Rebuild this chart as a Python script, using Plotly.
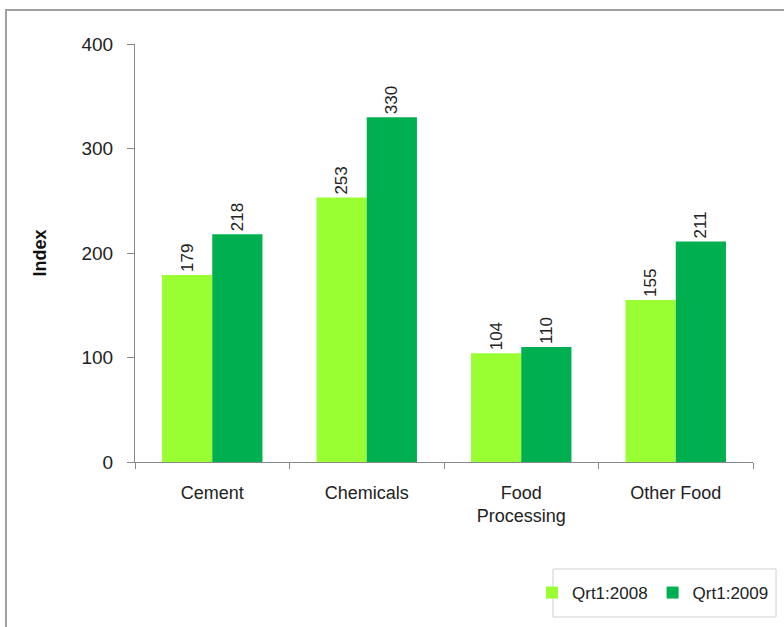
import plotly.graph_objects as go

categories = ["Cement", "Chemicals", "Food<br>Processing", "Other Food"]
series_names = ["Qrt1:2008", "Qrt1:2009"]
values_2008 = [179, 253, 104, 155]
values_2009 = [218, 330, 110, 211]
y_ticks = [0, 100, 200, 300, 400]

colors = ["#99FF33", "#00B050"]
font_family = "Liberation Sans, Arial, sans-serif"

W, H = 784, 627
L, T = 135, 44
R = W - 753
B = H - 462
pw, ph = W - L - R, H - T - B

fig = go.Figure()
for name, vals, col in zip(series_names, [values_2008, values_2009], colors):
    fig.add_trace(go.Bar(
        x=categories, y=vals, name=name,
        marker=dict(color=col, line=dict(width=0)),
        text=[str(v) for v in vals], textposition="outside",
        textangle=-90, cliponaxis=False,
        textfont=dict(family=font_family, size=17, color="#222222"),
    ))

def px_x(x):
    return (x - L) / pw

def px_y(y):
    return 1 - (y - T) / ph

fig.update_layout(
    width=W, height=H,
    margin=dict(l=L, r=R, t=T, b=B, autoexpand=False),
    paper_bgcolor="white", plot_bgcolor="white",
    barmode="group", bargap=0.35, bargroupgap=0,
    font=dict(family=font_family, size=18, color="#222222"),
    showlegend=True,
    legend=dict(
        orientation="h", x=px_x(774), xanchor="right", y=px_y(593), yanchor="middle",
        borderwidth=0, bgcolor="rgba(0,0,0,0)",
        font=dict(size=17, color="#222222"),
        itemwidth=30, traceorder="normal",
    ),
    xaxis=dict(
        showline=True, linecolor="#888888", linewidth=1,
        ticks="outside", ticklen=6, tickcolor="#888888",
        tickson="boundaries", showgrid=False,
        tickfont=dict(size=18, color="#222222"),
        ticklabelstandoff=14,
    ),
    yaxis=dict(
        range=[0, 400], tickvals=y_ticks, ticktext=[str(v) for v in y_ticks],
        showline=True, linecolor="#888888", linewidth=1,
        ticks="outside", ticklen=7, tickcolor="#888888",
        showgrid=False, zeroline=False,
        tickfont=dict(size=19, color="#222222"),
        ticklabelstandoff=10,
        title=dict(text="<b>Index</b>", font=dict(size=18, color="#111111"), standoff=30),
    ),
    shapes=[
        dict(
            type="rect", xref="paper", yref="paper",
            x0=px_x(6), x1=px_x(800), y0=px_y(640), y1=px_y(10),
            line=dict(color="#A0A0A0", width=2), fillcolor="rgba(0,0,0,0)", layer="below",
        ),
        dict(
            type="rect", xref="paper", yref="paper",
            x0=px_x(553), x1=px_x(776), y0=px_y(617), y1=px_y(569),
            line=dict(color="#D0D0D0", width=1), fillcolor="white", layer="below",
        ),
    ],
)

fig.write_html(
    "out.html",
    config={"displayModeBar": False},
    post_script="document.body.style.margin='0';document.body.style.overflow='hidden';",
)
